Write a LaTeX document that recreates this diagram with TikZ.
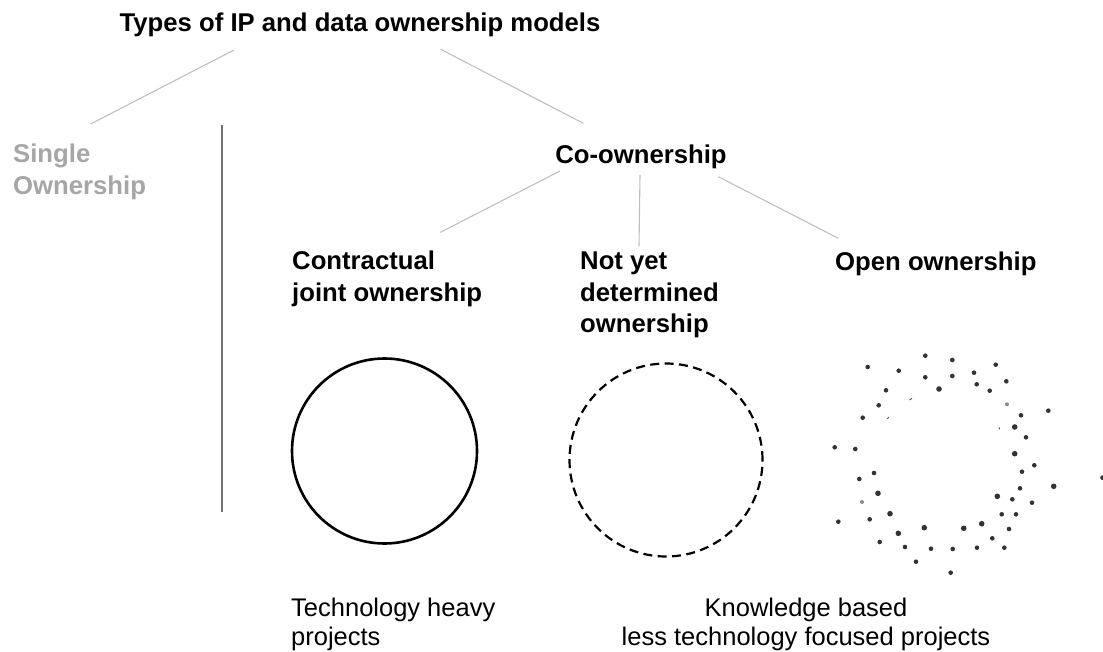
\documentclass[tikz,border=0pt]{standalone}
\usepackage{fontspec}
\setmainfont{Liberation Sans}
\begin{document}
\begin{tikzpicture}[x=1pt,y=-1pt,
  head/.style={font=\bfseries\fontsize{25.7}{31.5}\selectfont, inner sep=0pt, anchor=base west, align=left},
  plain/.style={font=\fontsize{25.5}{28.5}\selectfont, inner sep=0pt},
  thin/.style={draw=black!25, line width=1.1pt},
  dot/.style={fill=black!80, draw=none},
  greydot/.style={fill=black!45, draw=none}]
\useasboundingbox (0,0) rectangle (1103,652);
\fill[white] (0,0) rectangle (1103,652);

% headings (multi-line nodes are placed by the baseline of their last line)
\node[head, anchor=base] (title) at (360,32) {Types of IP and data ownership models};
\node[head, text=black!35] (single) at (13,194.5) {Single\\Ownership};
\node[head, anchor=base] (co) at (641,164) {Co-ownership};
\node[head] (contract) at (292,301.5) {Contractual\\joint ownership};
\node[head] (notyet) at (580,333) {Not yet\\determined\\ownership};
\node[head] (open) at (835,271) {Open ownership};

% connector end points
\coordinate (tl) at (234,50);
\coordinate (sl) at (90.7,124);
\coordinate (tr) at (440.7,49.3);
\coordinate (cr) at (583.3,123.3);
\coordinate (c1a) at (560,171);
\coordinate (c1b) at (440,232.5);
\coordinate (c2a) at (640,175);
\coordinate (c2b) at (639,246);
\coordinate (c3a) at (718.3,176.7);
\coordinate (c3b) at (838.3,238.3);
\draw[thin] (tl) -- (sl);
\draw[thin] (tr) -- (cr);
\draw[thin] (c1a) -- (c1b);
\draw[thin] (c2a) -- (c2b);
\draw[thin] (c3a) -- (c3b);

% divider
\coordinate (vtop) at (221.7,125);
\coordinate (vbot) at (221.7,512);
\draw[draw=black!55, line width=2pt] (vtop) -- (vbot);

% circles
\node[draw, circle, line width=2.6pt, minimum size=185pt, inner sep=0pt] (solid) at (384.5,451) {};
\node[draw, circle, line width=2.2pt, minimum size=193pt, inner sep=0pt, dash pattern=on 9pt off 5.4pt] (dashc) at (666,460) {};

% scattered dots (open ownership)
\foreach \x/\y in {925.3/355.7, 952.3/360, 867.7/367, 898.7/370.7, 995.7/364.7, 974/372.7,
  925.3/377.3, 952.3/376, 1006.3/381.3, 976.7/384.3, 886/390.3, 989.7/390.7, 878.7/405.3,
  1048.3/410.7, 862.7/417.7, 1021/415.3, 834.7/447.3, 855.3/449, 1026/437.3,
  1034.3/465.3, 874/473, 859.3/479, 1022/471.7, 1020/488.3, 1012.3/499.3, 1032/502.7,
  838.3/521.7, 869.7/519.3, 1001.7/514.3, 1016/514.3, 1009/529, 992.3/538.3, 879.7/542,
  905/547, 931/548.7, 952.7/549, 977/547.7, 1004.3/547.7, 916/561.7, 950.7/572.7, 1102.5/477.7}
  \fill[dot] (\x,\y) circle (2.3pt);
\foreach \x/\y in {939/389, 1014.7/427, 1014.7/453.7, 878/493.3, 1053.7/486.3, 890/513.7,
  997.3/496.3, 924.3/527.7, 963.7/528.3, 981.7/523.7, 898.3/533.3}
  \fill[dot] (\x,\y) circle (2.8pt);
\foreach \x/\y in {1007/404.3, 862/502}
  \fill[greydot] (\x,\y) circle (2pt);
\draw[black!70, line width=0.9pt] (909.5,400) -- (912,398.3);
\draw[black!70, line width=0.9pt] (887.5,419) -- (888.6,417);
\draw[black!70, line width=0.9pt] (999,427.5) -- (999.8,429.3);

% captions
\node[plain, anchor=base west, align=left] (tech) at (291,645) {Technology heavy\\projects};
\node[plain, anchor=base, align=center] (know) at (806,645) {Knowledge based\\less technology focused projects};
\end{tikzpicture}
\end{document}
